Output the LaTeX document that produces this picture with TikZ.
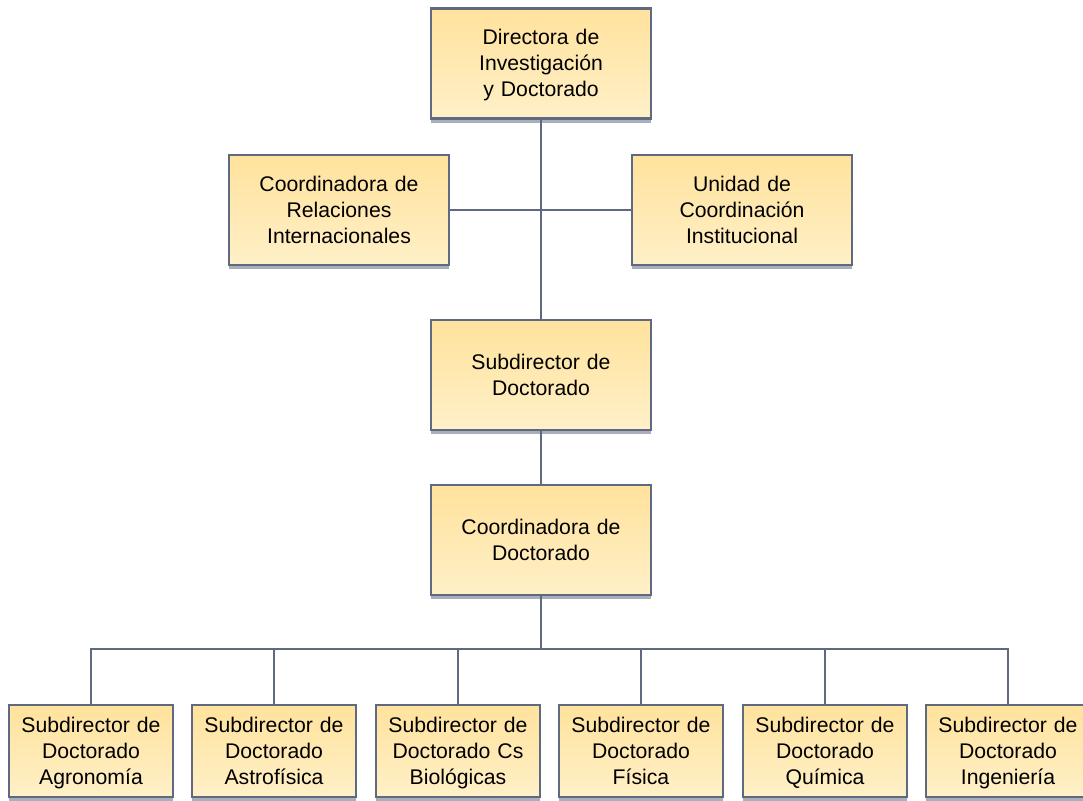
\documentclass[tikz,border=0pt]{standalone}
\usepackage{fontspec}
\setmainfont{Liberation Sans}
\usetikzlibrary{shadows}
\definecolor{edgecol}{HTML}{5F6A80}
\definecolor{topfill}{HTML}{FFE29C}
\definecolor{botfill}{HTML}{FFF0C8}
\definecolor{shadcol}{HTML}{A9AEBB}
\tikzset{
  box/.style={draw=edgecol, line width=2.7pt, top color=topfill, bottom color=botfill,
    align=center, inner sep=2pt, font=\fontsize{21.2}{26}\selectfont,
    execute at begin node={\rule{0pt}{22.2pt}}, execute at end node={\strut},
    general shadow={fill=shadcol, shadow yshift=-4pt}},
  bigbox/.style={box, minimum width=220pt, minimum height=110pt, text width=212pt},
  smallbox/.style={box, minimum width=162pt, minimum height=92pt, text width=160pt},
  link/.style={draw=edgecol, line width=2.6pt}
}
\begin{document}
\begin{tikzpicture}[x=1pt,y=-1pt]
\useasboundingbox (0,0) rectangle (1083,800);
\node[bigbox] (dir) at (541,63.5) {Directora de\\Investigación\\y Doctorado};
\node[bigbox] (rel) at (339,210) {Coordinadora de\\Relaciones\\Internacionales};
\node[bigbox] (uni) at (742,210) {Unidad de\\Coordinación\\Institucional};
\node[bigbox] (sub) at (541,375) {Subdirector de\\Doctorado};
\node[bigbox] (coo) at (541,540) {Coordinadora de\\Doctorado};
\node[smallbox] (b1) at (91,751) {Subdirector de\\Doctorado\\Agronomía};
\node[smallbox] (b2) at (274,751) {Subdirector de\\Doctorado\\Astrofísica};
\node[smallbox] (b3) at (458,751) {Subdirector de\\Doctorado Cs\\Biológicas};
\node[smallbox] (b4) at (641,751) {Subdirector de\\Doctorado\\Física};
\node[smallbox] (b5) at (825,751) {Subdirector de\\Doctorado\\Química};
\node[smallbox] (b6) at (1008,751) {Subdirector de\\Doctorado\\Ingeniería};
\coordinate (bus) at (541,649);
\path[link] (dir.south) -- (sub.north);
\path[link] (rel.east) -- (uni.west);
\path[link] (sub.south) -- (coo.north);
\path[link] (coo.south) -- (bus);
\path[link] (b1.north) |- (bus) -| (b6.north);
\foreach \b in {b2,b3,b4,b5} {\path[link] (\b.north) -- (\b.north |- bus);}
\end{tikzpicture}
\end{document}
